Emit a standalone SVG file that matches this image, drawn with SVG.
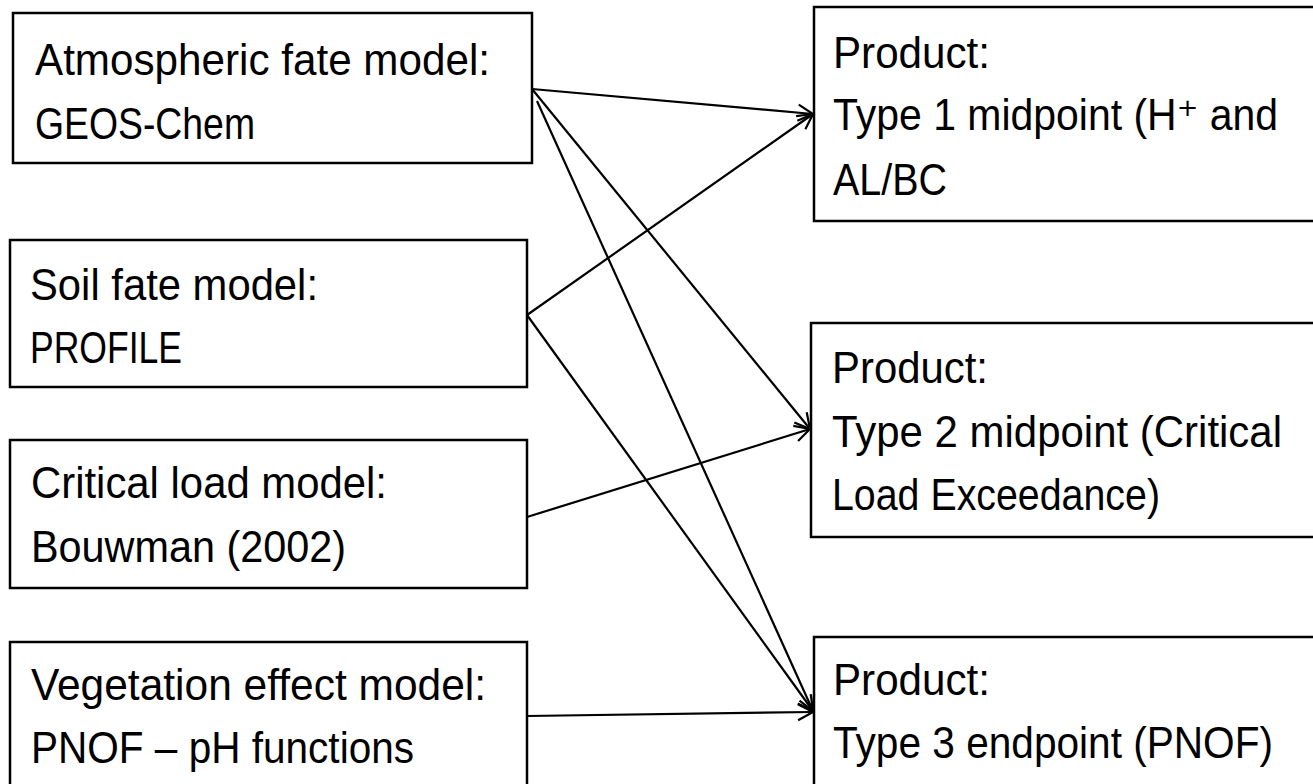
<svg xmlns="http://www.w3.org/2000/svg" width="1313" height="784" viewBox="0 0 1313 784">
<style>
.box{fill:#fff;stroke:#000;stroke-width:2.5}
.t{font-family:"Liberation Sans",Arial,"DejaVu Sans",sans-serif;font-size:44px;fill:#000}
.c{stroke:#000;stroke-width:2.2;fill:none}
</style>
<defs>
<marker id="arr" markerUnits="userSpaceOnUse" markerWidth="20" markerHeight="20" refX="16" refY="9" orient="auto" viewBox="0 0 20 18">
<path d="M1,1 L16,9 L1,17" fill="none" stroke="#000" stroke-width="2.2"/>
</marker>
</defs>
<rect width="1313" height="784" fill="#fff"/>
<g id="src-atmospheric">
<rect class="box" x="13" y="13" width="519" height="150"/>
<text class="t" x="35" y="75" textLength="455" lengthAdjust="spacingAndGlyphs">Atmospheric fate model:</text>
<text class="t" x="35" y="139" textLength="220" lengthAdjust="spacingAndGlyphs">GEOS-Chem</text>
</g>
<g id="src-soil">
<rect class="box" x="10" y="240" width="517" height="147"/>
<text class="t" x="30" y="300" textLength="288" lengthAdjust="spacingAndGlyphs">Soil fate model:</text>
<text class="t" x="30" y="363" textLength="152" lengthAdjust="spacingAndGlyphs">PROFILE</text>
</g>
<g id="src-critical">
<rect class="box" x="10" y="440" width="517" height="148"/>
<text class="t" x="31" y="498" textLength="356" lengthAdjust="spacingAndGlyphs">Critical load model:</text>
<text class="t" x="31" y="562" textLength="315" lengthAdjust="spacingAndGlyphs">Bouwman (2002)</text>
</g>
<g id="src-vegetation">
<rect class="box" x="10" y="642" width="517" height="170"/>
<text class="t" x="31" y="700" textLength="455" lengthAdjust="spacingAndGlyphs">Vegetation effect model:</text>
<text class="t" x="31" y="763" textLength="383" lengthAdjust="spacingAndGlyphs">PNOF – pH functions</text>
</g>
<g id="prod-type1">
<rect class="box" x="814" y="7" width="530" height="214"/>
<text class="t" x="833" y="68" textLength="157" lengthAdjust="spacingAndGlyphs">Product:</text>
<text class="t" x="833" y="130" textLength="445" lengthAdjust="spacingAndGlyphs">Type 1 midpoint (H⁺ and</text>
<text class="t" x="833" y="195" textLength="114" lengthAdjust="spacingAndGlyphs">AL/BC</text>
</g>
<g id="prod-type2">
<rect class="box" x="811" y="323" width="530" height="214"/>
<text class="t" x="832" y="383" textLength="156" lengthAdjust="spacingAndGlyphs">Product:</text>
<text class="t" x="832" y="447" textLength="450" lengthAdjust="spacingAndGlyphs">Type 2 midpoint (Critical</text>
<text class="t" x="832" y="510" textLength="328" lengthAdjust="spacingAndGlyphs">Load Exceedance)</text>
</g>
<g id="prod-type3">
<rect class="box" x="814" y="637" width="530" height="200"/>
<text class="t" x="833" y="695" textLength="157" lengthAdjust="spacingAndGlyphs">Product:</text>
<text class="t" x="833" y="758" textLength="440" lengthAdjust="spacingAndGlyphs">Type 3 endpoint (PNOF)</text>
</g>
<g id="connectors">
<line class="c" x1="532" y1="89" x2="813" y2="114" marker-end="url(#arr)"/>
<line class="c" x1="532" y1="89" x2="810" y2="429" marker-end="url(#arr)"/>
<line class="c" x1="537" y1="101" x2="813" y2="711" marker-end="url(#arr)"/>
<line class="c" x1="527" y1="315" x2="813" y2="114" marker-end="url(#arr)"/>
<line class="c" x1="527" y1="315" x2="813" y2="711" marker-end="url(#arr)"/>
<line class="c" x1="527" y1="517" x2="810" y2="429" marker-end="url(#arr)"/>
<line class="c" x1="527" y1="716" x2="813" y2="712" marker-end="url(#arr)"/>
</g>
</svg>
